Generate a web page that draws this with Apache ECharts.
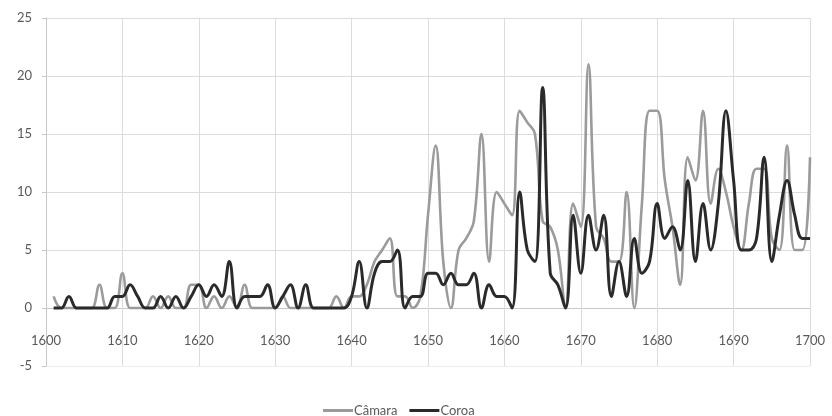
<!DOCTYPE html>
<html>
<head>
<meta charset="utf-8">
<script src="https://cdn.jsdelivr.net/npm/echarts@6/dist/echarts.min.js"></script>
<style>
html,body{margin:0;padding:0;background:#fff;}
#chart{width:832px;height:416px;}
</style>
</head>
<body>
<div id="chart"></div>
<script>
const firstYear = 1601;
const camara = [
  1,0,0,0,0,0,2,0,0,3,
  0,0,0,1,0,1,0,0,2,2,
  0,1,0,1,0,2,0,0,0,0,
  1,0,0,0,0,0,0,1,0,1,
  1,2,4,5,6,1,1,0,1,8,
  14,4,0,5,6,7.5,15,4,10,9,
  8,17,16,15,7.5,7,5,0,9,7,
  21,7,6,4,4,10,0,9,17,17,
  11,7,2,13,11,17,9,12,10,7,
  5,9,12,12,6,5,14,5,5,13
];
const coroa = [
  0,0,1,0,0,0,0,0,1,1,
  2,1,0,0,1,0,1,0,1,2,
  1,2,1,4,0,1,1,1,2,0,
  1,2,0,2,0,0,0,0,0,1,
  4,0,3,4,4,5,0,1,1,3,
  3,2,3,2,2,3,0,2,1,1,
  0,10,5,4,19,3,2,0,8,3,
  8,5,8,1,4,1,6,3,4,9,
  6,7,5,11,4,9,5,9,17,11,
  5,5,6,13,4,8,11,8,6,6
];
const seriesNames = ['Câmara', 'Coroa'];

function pairs(vals){ return vals.map((v,i)=>[firstYear+i, v]); }

const chart = echarts.init(document.getElementById('chart'));
const txt = '#595959';
const ff = 'Lato, Open Sans, sans-serif';
chart.setOption({
  animation:false,
  backgroundColor:'#fff',
  textStyle:{fontFamily:ff},
  grid:{left:46,right:22,top:18,bottom:50,containLabel:false},
  legend:{
    data:seriesNames, top:399, left:318,
    icon:'rect', itemWidth:30, itemHeight:3, itemGap:12,
    textStyle:{color:txt,fontSize:13,fontFamily:ff,padding:[0,0,0,-4]}
  },
  xAxis:{
    type:'value', min:1600, max:1700, interval:10,
    axisLine:{show:false,onZero:false},
    axisTick:{show:false},
    axisLabel:{color:txt,fontSize:13,margin:-32,fontFamily:ff,formatter:v=>String(v)},
    splitLine:{show:true,lineStyle:{color:'#dcdcdc',width:1}}
  },
  yAxis:{
    type:'value', min:-5, max:25, interval:5,
    axisLine:{show:true,lineStyle:{color:'#c8c8c8',width:1}},
    axisTick:{show:true,length:4,lineStyle:{color:'#c8c8c8'}},
    axisLabel:{color:txt,fontSize:13,margin:14,fontFamily:ff},
    splitLine:{show:true,lineStyle:{color:['#ececec','#c8c8c8','#dcdcdc','#dcdcdc','#dcdcdc','#dcdcdc','#dcdcdc'],width:1}}
  },
  series:[
    {name:seriesNames[0], type:'line', data:pairs(camara), smooth:0.4,
     symbol:'none', showSymbol:false,
     lineStyle:{color:'#9b9b9b',width:2.6}, itemStyle:{color:'#9b9b9b'}},
    {name:seriesNames[1], type:'line', data:pairs(coroa), smooth:0.4,
     symbol:'none', showSymbol:false,
     lineStyle:{color:'#2a2a2a',width:3}, itemStyle:{color:'#2a2a2a'}}
  ]
});
</script>
</body>
</html>
